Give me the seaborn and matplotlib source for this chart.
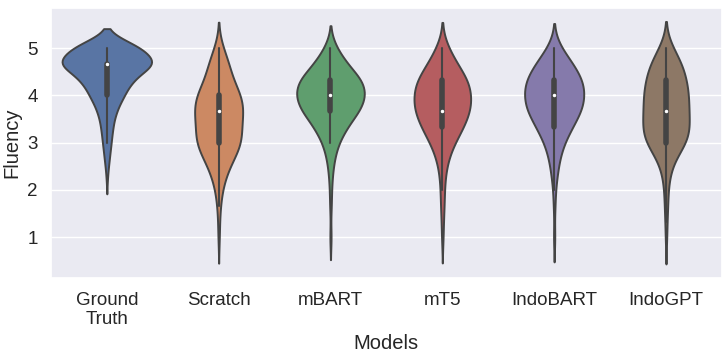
import matplotlib
matplotlib.use('Agg')
import matplotlib.pyplot as plt
import numpy as np
import pandas as pd
import seaborn as sns

# Fluency scores (mean of 3 annotators) and how many samples got each score
scores = [1.0, 1.33, 1.67, 2.0, 2.33, 2.67, 3.0, 3.33, 3.67, 4.0, 4.33, 4.67, 5.0]
models = ['Ground\nTruth', 'Scratch', 'mBART', 'mT5', 'IndoBART', 'IndoGPT']

counts_ground_truth = [0, 0, 0, 0, 1, 3, 5, 7, 11, 20, 30, 60, 42]
counts_scratch = [1, 1, 2, 4, 9, 18, 28, 26, 30, 27, 16, 13, 5]
counts_mbart = [1, 0, 1, 1, 2, 4, 8, 17, 30, 36, 33, 17, 6]
counts_mt5 = [1, 1, 2, 2, 3, 6, 12, 22, 29, 29, 27, 15, 6]
counts_indobart = [1, 0, 1, 1, 3, 5, 9, 17, 26, 28, 27, 18, 6]
counts_indogpt = [1, 1, 2, 2, 4, 9, 23, 26, 24, 24, 22, 18, 7]

all_counts = [counts_ground_truth, counts_scratch, counts_mbart,
              counts_mt5, counts_indobart, counts_indogpt]

# expand counts into a long table
rows = []
for m, c in zip(models, all_counts):
    vals = np.repeat(scores, c)
    rows.append(pd.DataFrame({'Models': m, 'Fluency': vals}))
df = pd.concat(rows, ignore_index=True)

sns.set_theme(style='darkgrid')
plt.rcParams['font.family'] = ['Liberation Sans', 'DejaVu Sans']

fig, ax = plt.subplots(figsize=(7.27, 3.57), dpi=100)
# no hue here so all violins share one area scale
sns.violinplot(data=df, x='Models', y='Fluency', order=models, ax=ax,
               color='#4c72b0', linecolor='#444444', linewidth=1.4,
               inner_kws=dict(box_width=4, whis_width=1.5, marker='.'))

# colour each violin with the deep palette
colors = sns.color_palette('deep', len(models), desat=0.75)
for coll, col in zip(ax.collections, colors):
    coll.set_facecolor(col)

ax.set_xlabel('Models', fontsize=14.5)
ax.set_ylabel('Fluency', fontsize=14.5)
ax.tick_params(axis='both', labelsize=13.5)
ax.set_yticks([1, 2, 3, 4, 5])
ax.set_ylim(0.13, 5.85)

plt.subplots_adjust(left=0.07, right=0.993, top=0.978, bottom=0.22)
plt.savefig('out.png', dpi=100)
